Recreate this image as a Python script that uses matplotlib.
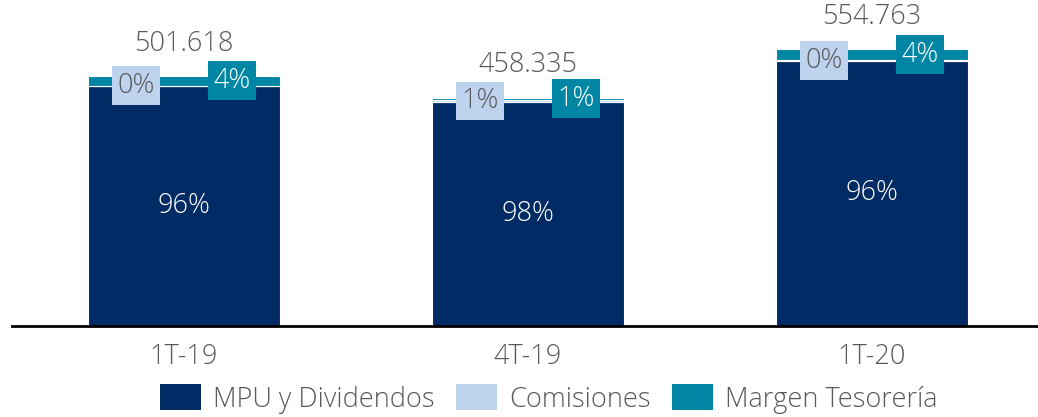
import numpy as np
import matplotlib
matplotlib.use('Agg')
import matplotlib.pyplot as plt

plt.rcParams['font.family'] = ['Open Sans', 'DejaVu Sans']

# Margen bruto por trimestre (miles), desglosado por componente
periodos = ['1T-19', '4T-19', '1T-20']
totales = [501.618, 458.335, 554.763]
comisiones = [0.8, 4.6, 0.7]
margen_tesoreria = [19.4, 4.5, 21.8]
mpu_dividendos = [t - c - m for t, c, m in zip(totales, comisiones, margen_tesoreria)]

series = ['MPU y Dividendos', 'Comisiones', 'Margen Tesorería']
colores = ['#002B64', '#BDD3EE', '#0086A5']
gris = '#595959'

fig = plt.figure(figsize=(10.38, 4.17), dpi=100)
ax = fig.add_axes([12/1038, 1 - 326/417, 1032/1038, 326/417])

x = np.arange(len(periodos))
ancho = 0.56
base = np.zeros(len(periodos))
valores = [mpu_dividendos, comisiones, margen_tesoreria]
for vals, nombre, color in zip(valores, series, colores):
    ax.bar(x, vals, ancho, bottom=base, color=color, edgecolor='white',
           linewidth=0.8, label=nombre)
    base = base + np.array(vals)

fs = 19.5
for i in range(len(periodos)):
    tot = totales[i]
    # porcentaje MPU, centrado en la barra
    ax.text(x[i], mpu_dividendos[i] / 2, '%d%%' % round(100 * mpu_dividendos[i] / tot),
            ha='center', va='center', color='white', fontsize=fs, fontweight='light')
    # comisiones, etiqueta con caja clara a la izquierda
    yc = mpu_dividendos[i] + comisiones[i] / 2
    ax.text(x[i] - 0.14, yc, '%d%%' % round(100 * comisiones[i] / tot),
            ha='center', va='center', color=gris, fontsize=fs, fontweight='light',
            bbox=dict(boxstyle='square,pad=0.2', fc=colores[1], ec='none'))
    # margen tesoreria, etiqueta con caja a la derecha
    ym = mpu_dividendos[i] + comisiones[i] + margen_tesoreria[i] / 2
    ax.text(x[i] + 0.14, ym, '%d%%' % round(100 * margen_tesoreria[i] / tot),
            ha='center', va='center', color='white', fontsize=fs, fontweight='light',
            bbox=dict(boxstyle='square,pad=0.2', fc=colores[2], ec='none'))
    # total encima de la barra
    ax.annotate(('%.3f' % tot), (x[i], tot), xytext=(0, 13), textcoords='offset points',
                ha='center', va='bottom', color=gris, fontsize=fs, fontweight='light')

ax.set_xlim(-0.5, 2.5)
ax.set_ylim(0, 654)
ax.set_xticks(x)
ax.set_xticklabels(periodos, fontsize=fs, color=gris, fontweight='light')
ax.tick_params(axis='x', length=0, pad=12)
ax.set_yticks([])
for s in ['top', 'right', 'left']:
    ax.spines[s].set_visible(False)
ax.spines['bottom'].set_linewidth(2)
ax.spines['bottom'].set_color('black')

leg = fig.legend(loc='center', bbox_to_anchor=(549/1038, 1 - 399/417), ncol=3,
                 frameon=False, fontsize=fs, handlelength=1.5, handleheight=1.1,
                 handletextpad=0.45, columnspacing=0.8, borderpad=0, borderaxespad=0)
for t in leg.get_texts():
    t.set_color(gris)
    t.set_fontweight('light')
for h in leg.legend_handles:
    h.set_edgecolor('none')

fig.savefig('out.png', dpi=100)
